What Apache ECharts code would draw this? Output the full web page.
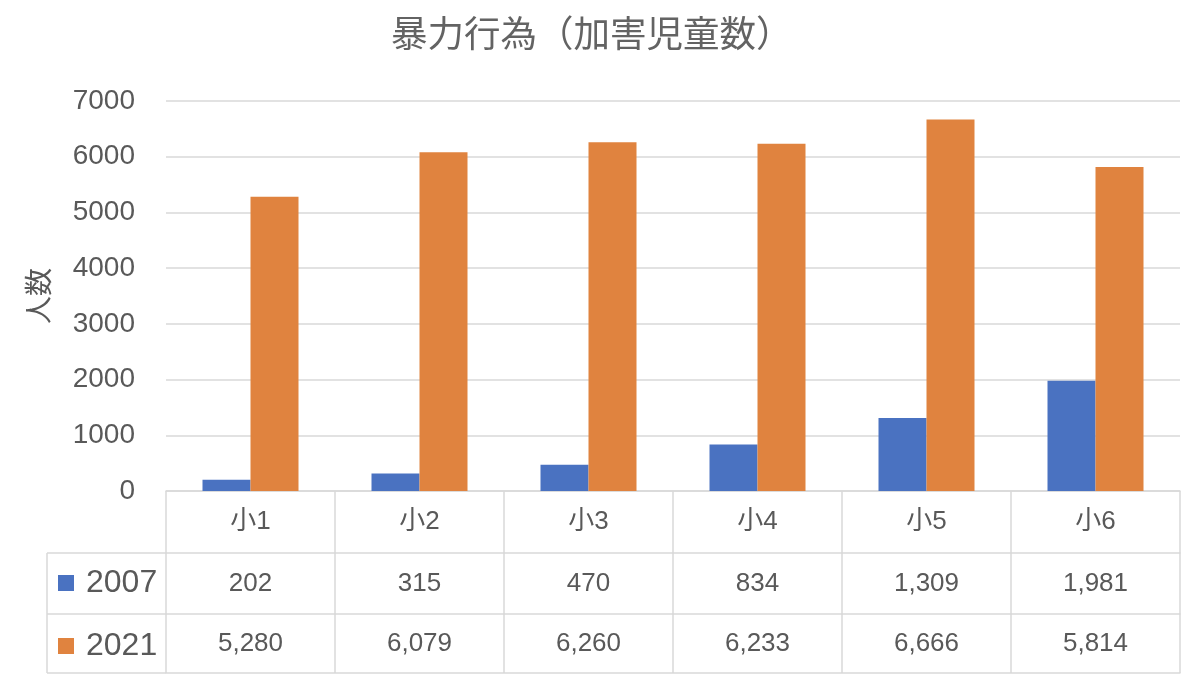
<!DOCTYPE html>
<html>
<head>
<meta charset="utf-8">
<script src="https://cdn.jsdelivr.net/npm/echarts@6/dist/echarts.min.js"></script>
<style>html,body{margin:0;padding:0;background:#fff}#c{width:1200px;height:680px}</style>
</head>
<body>
<div id="c"></div>
<script>
const categories = ['小1', '小2', '小3', '小4', '小5', '小6'];
const values2007 = [202, 315, 470, 834, 1309, 1981];
const values2021 = [5280, 6079, 6260, 6233, 6666, 5814];
const seriesNames = ['2007', '2021'];
const yTicks = { min: 0, max: 7000, interval: 1000 };

const FONT = '"Noto Sans CJK JP", "Noto Sans", sans-serif';
const NUMFONT = '"Liberation Sans", "Noto Sans CJK JP", sans-serif';
const TEXT = '#595959';
const LINE = '#D9D9D9';
const GRID = { left: 166, right: 20, top: 101, bottom: 189 };
const ROW = [62, 61, 59];
const TABLE_LEFT = 47;
const fmt = v => v.toLocaleString('en-US');

const chart = echarts.init(document.getElementById('c'));
const gridBottomY = 680 - GRID.bottom;
const rowTop1 = gridBottomY + ROW[0];
const rowTop2 = rowTop1 + ROW[1];
const rowBottom = rowTop2 + ROW[2];

function tableAxis(data, offset, len, showLabel) {
  return {
    type: 'category', data: data, position: 'bottom', offset: offset, gridIndex: 0,
    axisLine: { show: true, lineStyle: { color: LINE, width: 1.5 } },
    axisTick: { show: true, length: len, lineStyle: { color: LINE, width: 1.5 } },
    axisLabel: { show: showLabel, interval: 0, fontSize: 26, color: TEXT, fontFamily: NUMFONT, margin: len / 2, verticalAlign: 'middle' },
    splitLine: { show: false }
  };
}

chart.setOption({
  animation: false,
  title: {
    text: '暴力行為（加害児童数）', left: 391, top: 15, padding: 0,
    textStyle: { fontSize: 36.5, fontWeight: 'normal', color: '#636363', fontFamily: FONT }
  },
  legend: {
    orient: 'vertical', left: 58, top: 566, padding: 0, itemWidth: 16, itemHeight: 16, itemGap: 29,
    icon: 'rect', data: seriesNames,
    textStyle: { fontSize: 32, color: TEXT, fontFamily: NUMFONT, lineHeight: 32, padding: [2, 0, 0, 7] }
  },
  grid: GRID,
  xAxis: [
    tableAxis(categories, 0, ROW[0], true),
    tableAxis(values2007.map(fmt), ROW[0], ROW[1], true),
    tableAxis(values2021.map(fmt), ROW[0] + ROW[1], ROW[2], true),
    tableAxis(categories.map(() => ''), ROW[0] + ROW[1] + ROW[2], 0, false)
  ],
  yAxis: {
    type: 'value', min: yTicks.min, max: yTicks.max, interval: yTicks.interval,
    name: '人数', nameLocation: 'middle', nameRotate: 90, nameGap: 114,
    nameTextStyle: { fontSize: 28, color: TEXT, fontFamily: FONT },
    axisLine: { show: false }, axisTick: { show: false },
    axisLabel: { fontSize: 28, color: TEXT, fontFamily: NUMFONT, margin: 31, formatter: v => String(v) },
    splitLine: { lineStyle: { color: LINE, width: 1.5 } }
  },
  series: [
    { name: seriesNames[0], type: 'bar', data: values2007, barWidth: 48, barGap: '0%', itemStyle: { color: '#4A72C1' } },
    { name: seriesNames[1], type: 'bar', data: values2021, barWidth: 48, barGap: '0%', itemStyle: { color: '#E0833F' } }
  ],
  graphic: [
    { type: 'line', shape: { x1: TABLE_LEFT, y1: rowTop1, x2: GRID.left, y2: rowTop1 }, style: { stroke: LINE, lineWidth: 1.5 } },
    { type: 'line', shape: { x1: TABLE_LEFT, y1: rowTop2, x2: GRID.left, y2: rowTop2 }, style: { stroke: LINE, lineWidth: 1.5 } },
    { type: 'line', shape: { x1: TABLE_LEFT, y1: rowBottom, x2: GRID.left, y2: rowBottom }, style: { stroke: LINE, lineWidth: 1.5 } },
    { type: 'line', shape: { x1: TABLE_LEFT, y1: rowTop1, x2: TABLE_LEFT, y2: rowBottom }, style: { stroke: LINE, lineWidth: 1.5 } }
  ]
});
</script>
</body>
</html>
